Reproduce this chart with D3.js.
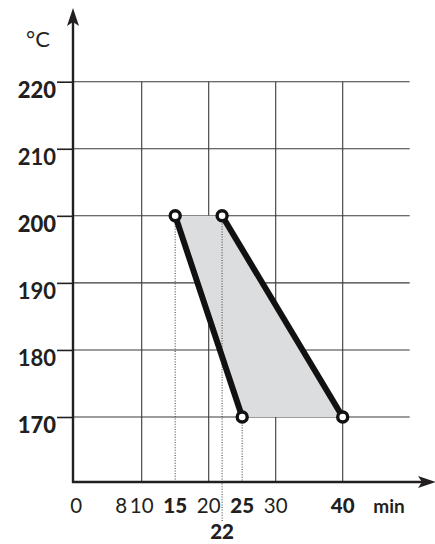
<!DOCTYPE html>
<html>
<head>
<meta charset="utf-8">
<script src="https://cdn.jsdelivr.net/npm/d3@7"></script>
<style>
  html, body { margin: 0; padding: 0; background: #fff; }
  text { font-family: Lato, "Noto Sans", sans-serif; fill: #231f20; }
</style>
</head>
<body>
<svg id="chart"></svg>
<script>
// temperature (°C) over baking time (min)
const fastLine = [{ t: 15, temp: 200 }, { t: 25, temp: 170 }];
const slowLine = [{ t: 22, temp: 200 }, { t: 40, temp: 170 }];

const yTicks = [170, 180, 190, 200, 210, 220];
const yBold = [170, 200, 220];
const xLabels = [0, 8, 10, 15, 20, 25, 30, 40];
const xBold = [15, 25, 40];
const xGrid = [10, 20, 30, 40];
const lowLabel = 22; // printed under the axis

const width = 435, height = 544;
const svg = d3.select('#chart').attr('width', width).attr('height', height);

const x = d3.scaleLinear().domain([0, 50]).range([74.7, 409.7]);
const y = d3.scaleLinear().domain([170, 220]).range([417, 81.7]);
const axisX = 73, axisY = 482;

// grid
const grid = svg.append('g').attr('stroke', '#3a3a3a').attr('stroke-width', 1.1);
grid.selectAll('line.h').data(yTicks).enter().append('line')
  .attr('x1', axisX).attr('x2', x(50))
  .attr('y1', d => y(d)).attr('y2', d => y(d));
grid.selectAll('line.v').data(xGrid).enter().append('line')
  .attr('x1', d => x(d)).attr('x2', d => x(d))
  .attr('y1', y(220)).attr('y2', axisY);

// shaded band between the two lines
const band = [fastLine[0], slowLine[0], slowLine[1], fastLine[1]];
svg.append('path')
  .attr('d', d3.line().x(d => x(d.t)).y(d => y(d.temp))(band) + 'Z')
  .attr('fill', '#dcdddf');

// dotted drop lines
const drops = [
  { t: fastLine[0].t, from: fastLine[0].temp, to: axisY },
  { t: slowLine[0].t, from: slowLine[0].temp, to: 521 },
  { t: fastLine[1].t, from: fastLine[1].temp, to: axisY }
];
svg.append('g').selectAll('line').data(drops).enter().append('line')
  .attr('x1', d => x(d.t)).attr('x2', d => x(d.t))
  .attr('y1', d => y(d.from)).attr('y2', d => d.to)
  .attr('stroke', '#555').attr('stroke-width', 1.2)
  .attr('stroke-dasharray', '1,1.6');

// y ticks + labels
const yAxis = d3.axisLeft(y).tickValues(yTicks).tickSize(16).tickSizeOuter(0).tickFormat(d => d);
const gy = svg.append('g').attr('transform', `translate(${axisX},0)`).call(yAxis);
gy.select('.domain').remove();
gy.selectAll('.tick line').attr('stroke', '#231f20').attr('stroke-width', 1.6);
gy.selectAll('.tick text')
  .attr('x', -17).attr('dy', null).attr('y', 15.5)
  .attr('font-size', 22)
  .attr('font-family', 'Lato, sans-serif')
  .attr('font-weight', d => yBold.includes(d) ? 900 : 700)
  .attr('fill', '#231f20');

// axes with arrow heads
svg.append('line').attr('x1', axisX).attr('x2', axisX).attr('y1', 20).attr('y2', axisY + 1)
  .attr('stroke', '#231f20').attr('stroke-width', 2.4);
svg.append('line').attr('x1', axisX - 1).attr('x2', 425).attr('y1', axisY).attr('y2', axisY)
  .attr('stroke', '#231f20').attr('stroke-width', 2.4);
svg.append('path').attr('d', `M${axisX},8 L${axisX + 6},26 L${axisX},22 L${axisX - 6},26 Z`).attr('fill', '#231f20');
svg.append('path').attr('d', `M436,${axisY} L418,${axisY - 6} L422,${axisY} L418,${axisY + 6} Z`).attr('fill', '#231f20');

// x labels
const nudge = { 8: -7, 0: 1.5 };
svg.append('g').selectAll('text').data(xLabels).enter().append('text')
  .attr('x', d => x(d) + (nudge[d] || 0)).attr('y', 513)
  .attr('text-anchor', 'middle')
  .attr('font-size', 20.5)
  .attr('font-weight', d => xBold.includes(d) ? 900 : 400)
  .text(d => d);
svg.append('text').attr('x', x(lowLabel)).attr('y', 539).attr('text-anchor', 'middle')
  .attr('font-size', 20.5).attr('font-weight', 900).text(lowLabel);
svg.append('text').attr('x', 389).attr('y', 513).attr('text-anchor', 'middle')
  .attr('font-size', 19).attr('font-weight', 700).text('min');
svg.append('text').attr('x', 38).attr('y', 47).attr('text-anchor', 'middle')
  .attr('font-size', 22).attr('font-weight', 400).text('°C');

// the two lines with hollow end points
const line = d3.line().x(d => x(d.t)).y(d => y(d.temp));
[fastLine, slowLine].forEach(series => {
  svg.append('path').attr('d', line(series))
    .attr('fill', 'none').attr('stroke', '#111').attr('stroke-width', 6);
  svg.append('g').selectAll('circle').data(series).enter().append('circle')
    .attr('cx', d => x(d.t)).attr('cy', d => y(d.temp)).attr('r', 5)
    .attr('fill', '#fff').attr('stroke', '#111').attr('stroke-width', 3.4);
});
</script>
</body>
</html>
